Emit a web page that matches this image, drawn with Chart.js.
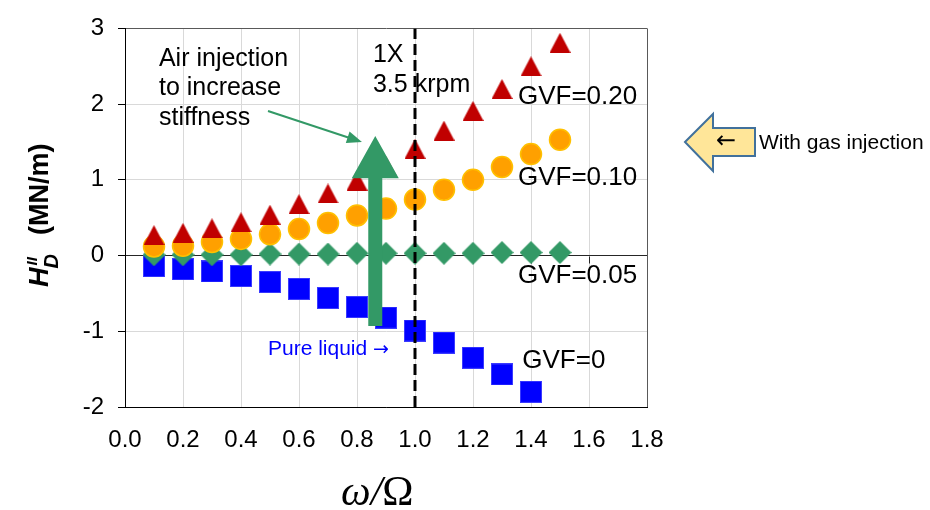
<!DOCTYPE html>
<html>
<head>
<meta charset="utf-8">
<script src="https://cdn.jsdelivr.net/npm/chart.js@4.4.1/dist/chart.umd.min.js"></script>
<style>
  html, body { margin: 0; padding: 0; background: #fff; }
  canvas { display: block; }
</style>
</head>
<body>
<canvas id="hdd" width="930" height="510"></canvas>
<script>
// frequency ratio w/W for each measured point
const freqRatio = [0.1, 0.2, 0.3, 0.4, 0.5, 0.6, 0.7, 0.8, 0.9, 1.0, 1.1, 1.2, 1.3, 1.4, 1.5];

// direct dynamic stiffness H_D (MN/m) per gas volume fraction
const gvf000 = [-0.14, -0.18, -0.21, -0.27, -0.35, -0.44, -0.56, -0.68, -0.82, -0.99, -1.15, -1.35, -1.57, -1.80];
const gvf005 = [0.01, 0.01, 0.01, 0.01, 0.02, 0.02, 0.02, 0.03, 0.03, 0.03, 0.03, 0.03, 0.04, 0.04, 0.04];
const gvf010 = [0.12, 0.13, 0.18, 0.22, 0.28, 0.35, 0.43, 0.53, 0.62, 0.74, 0.87, 1.00, 1.17, 1.34, 1.53];
const gvf020 = [0.27, 0.30, 0.36, 0.44, 0.54, 0.68, 0.82, 0.99, 1.18, 1.41, 1.65, 1.91, 2.20, 2.50, 2.81];

const seriesLabels = ['GVF=0', 'GVF=0.05', 'GVF=0.10', 'GVF=0.20'];

// axis ranges and tick steps
const xRange = [0, 1.8];
const xStep = 0.2;
const yRange = [-2, 3];
const yStep = 1;

// synchronous speed marker (1X = 3.5 krpm)
const syncRatio = 1.0;

const SANS = '"Liberation Sans", Arial, sans-serif';
const SERIF = '"Liberation Serif", "Times New Roman", serif';
const ARROWS = '"DejaVu Sans", ' + SANS;
const GREEN = '#339966';

function pairs(xs, ys) {
  return ys.map((y, i) => ({ x: xs[i], y: y }));
}

// Excel-like markers, drawn once and reused as point images
function marker(w, h, draw) {
  const c = document.createElement('canvas');
  c.width = w;
  c.height = h;
  draw(c.getContext('2d'), w, h);
  return c;
}

const triangleMark = marker(21, 20, (g, w, h) => {
  g.fillStyle = '#c00000';
  g.beginPath();
  g.moveTo(w / 2, 0);
  g.lineTo(w, h);
  g.lineTo(0, h);
  g.closePath();
  g.fill();
});

const diamondMark = marker(23, 23, (g, w, h) => {
  g.fillStyle = GREEN;
  g.beginPath();
  g.moveTo(w / 2, 0);
  g.lineTo(w, h / 2);
  g.lineTo(w / 2, h);
  g.lineTo(0, h / 2);
  g.closePath();
  g.fill();
});

const squareMark = marker(22, 22, (g, w, h) => {
  g.fillStyle = '#3a3aff';
  g.fillRect(0, 0, w, h);
  g.fillStyle = '#0000ff';
  g.fillRect(1, 1, w - 2, h - 2);
});

function near(a, b) {
  return Math.abs(a - b) < 1e-6;
}

// text placed in data coordinates
const notes = [
  { text: 'Air injection', x: 0.117, y: 2.60, size: 25 },
  { text: 'to increase', x: 0.117, y: 2.21, size: 25 },
  { text: 'stiffness', x: 0.117, y: 1.82, size: 25 },
  { text: '1X', x: 0.855, y: 2.65, size: 25 },
  { text: '3.5 krpm', x: 0.855, y: 2.25, size: 25 },
  { text: seriesLabels[3], x: 1.355, y: 2.09, size: 26 },
  { text: seriesLabels[2], x: 1.355, y: 1.03, size: 26 },
  { text: seriesLabels[1], x: 1.355, y: -0.27, size: 26 },
  { text: seriesLabels[0], x: 1.37, y: -1.39, size: 26 },
  { text: 'Pure liquid ', x: 0.493, y: -1.24, size: 21, color: '#0000ff', tail: '\u2192' }
];

// big arrow: air injection lifts the stiffness
const liftArrow = { x: 0.863, from: -0.93, headBase: 1.02, tip: 1.58 };
// pointer from the note to the big arrow
const pointer = { x0: 0.493, y0: 1.91, x1: 0.817, y1: 1.50 };

const notesPlugin = {
  id: 'notes',
  beforeDatasetsDraw(chart) {
    // small tick marks where the x axis crosses at zero
    const { ctx, scales: { x, y } } = chart;
    const y0 = Math.round(y.getPixelForValue(0)) + 0.5;
    ctx.save();
    ctx.strokeStyle = '#262626';
    ctx.lineWidth = 1;
    ctx.beginPath();
    for (let v = xRange[0] + xStep; v < xRange[1] - 1e-6; v += xStep) {
      const px = Math.round(x.getPixelForValue(v)) + 0.5;
      ctx.moveTo(px, y0);
      ctx.lineTo(px, y0 + 7);
    }
    ctx.stroke();
    ctx.restore();
  },
  afterDatasetsDraw(chart) {
    const { ctx, scales: { x, y } } = chart;
    const cx = x.getPixelForValue(liftArrow.x);
    const yb = y.getPixelForValue(liftArrow.from);
    const yh = y.getPixelForValue(liftArrow.headBase);
    const yt = y.getPixelForValue(liftArrow.tip);
    ctx.save();
    ctx.fillStyle = GREEN;
    ctx.beginPath();
    ctx.moveTo(cx - 7, yb);
    ctx.lineTo(cx - 7, yh);
    ctx.lineTo(cx - 23.5, yh);
    ctx.lineTo(cx, yt);
    ctx.lineTo(cx + 23.5, yh);
    ctx.lineTo(cx + 7, yh);
    ctx.lineTo(cx + 7, yb);
    ctx.closePath();
    ctx.fill();
    ctx.restore();
  },
  afterDraw(chart) {
    const { ctx, scales: { x, y } } = chart;
    ctx.save();

    // annotations inside the plot
    ctx.textAlign = 'left';
    ctx.textBaseline = 'middle';
    notes.forEach(n => {
      const px = x.getPixelForValue(n.x), py = y.getPixelForValue(n.y);
      ctx.font = n.size + 'px ' + SANS;
      ctx.fillStyle = n.color || '#000';
      ctx.fillText(n.text, px, py);
      if (n.tail) {
        const w = ctx.measureText(n.text).width;
        ctx.font = (n.size - 2) + 'px ' + ARROWS;
        ctx.fillText(n.tail, px + w, py + 1);
      }
    });

    // thin pointer arrow
    const ax = x.getPixelForValue(pointer.x0), ay = y.getPixelForValue(pointer.y0);
    const bx = x.getPixelForValue(pointer.x1), by = y.getPixelForValue(pointer.y1);
    const ang = Math.atan2(by - ay, bx - ax);
    ctx.strokeStyle = GREEN;
    ctx.fillStyle = GREEN;
    ctx.lineWidth = 2;
    ctx.beginPath();
    ctx.moveTo(ax, ay);
    ctx.lineTo(bx - 12 * Math.cos(ang), by - 12 * Math.sin(ang));
    ctx.stroke();
    ctx.beginPath();
    ctx.moveTo(bx, by);
    ctx.lineTo(bx - 15 * Math.cos(ang) + 6 * Math.sin(ang), by - 15 * Math.sin(ang) - 6 * Math.cos(ang));
    ctx.lineTo(bx - 15 * Math.cos(ang) - 6 * Math.sin(ang), by - 15 * Math.sin(ang) + 6 * Math.cos(ang));
    ctx.closePath();
    ctx.fill();

    // y axis title: H_D^II (MN/m)
    ctx.save();
    ctx.translate(48, 287);
    ctx.rotate(-Math.PI / 2);
    ctx.textAlign = 'left';
    ctx.textBaseline = 'alphabetic';
    ctx.fillStyle = '#000';
    ctx.font = 'italic bold 27px ' + SANS;
    ctx.fillText('H', 0, 0);
    const hw = ctx.measureText('H').width;
    ctx.font = 'italic bold 20px ' + SANS;
    ctx.fillText('D', hw - 1, 10);
    ctx.font = 'italic bold 15px ' + SANS;
    ctx.fillText('II', hw + 2, -11);
    ctx.font = 'bold 27px ' + SANS;
    ctx.fillText('(MN/m)', 52, 0);
    ctx.restore();

    // x axis title: w/W
    ctx.textBaseline = 'alphabetic';
    ctx.fillStyle = '#000';
    let tx = 341;
    ctx.font = 'italic 42px ' + SERIF;
    ctx.fillText('\u03c9/', tx, 505);
    tx += ctx.measureText('\u03c9/').width;
    ctx.font = '42px ' + SERIF;
    ctx.fillText('\u03a9', tx, 505);

    // callout arrow on the right
    ctx.beginPath();
    ctx.moveTo(685, 142);
    ctx.lineTo(713, 114);
    ctx.lineTo(713, 128);
    ctx.lineTo(755, 128);
    ctx.lineTo(755, 156);
    ctx.lineTo(713, 156);
    ctx.lineTo(713, 171);
    ctx.closePath();
    ctx.fillStyle = '#ffe699';
    ctx.fill();
    ctx.strokeStyle = '#41719c';
    ctx.lineWidth = 2;
    ctx.stroke();
    ctx.fillStyle = '#000';
    ctx.textBaseline = 'middle';
    ctx.font = '24px ' + ARROWS;
    ctx.fillText('\u2190', 716, 142);
    ctx.font = '21px ' + SANS;
    ctx.fillText('With gas injection', 759, 143);

    ctx.restore();
  }
};

new Chart(document.getElementById('hdd'), {
  type: 'scatter',
  data: {
    datasets: [
      {
        label: '1X',
        type: 'line',
        data: [{ x: syncRatio, y: yRange[0] }, { x: syncRatio, y: yRange[1] }],
        borderColor: '#000',
        borderWidth: 3,
        borderDash: [11, 5],
        pointRadius: 0,
        order: 0
      },
      {
        label: seriesLabels[3],
        data: pairs(freqRatio, gvf020),
        pointStyle: triangleMark,
        order: 1
      },
      {
        label: seriesLabels[2],
        data: pairs(freqRatio, gvf010),
        pointStyle: 'circle',
        pointRadius: 10.5,
        backgroundColor: '#ffa000',
        borderColor: '#ffc000',
        borderWidth: 1.5,
        order: 2
      },
      {
        label: seriesLabels[1],
        data: pairs(freqRatio, gvf005),
        pointStyle: diamondMark,
        order: 3
      },
      {
        label: seriesLabels[0],
        data: pairs(freqRatio, gvf000),
        pointStyle: squareMark,
        order: 4
      }
    ]
  },
  options: {
    responsive: false,
    animation: false,
    devicePixelRatio: 1,
    layout: {
      autoPadding: false,
      padding: { left: 0, right: 283, top: 22, bottom: 0 }
    },
    plugins: {
      legend: { display: false },
      tooltip: { enabled: false }
    },
    scales: {
      x: {
        type: 'linear',
        min: xRange[0],
        max: xRange[1],
        ticks: {
          stepSize: xStep,
          padding: 19,
          color: '#000',
          font: { family: SANS, size: 24 },
          callback: v => v.toFixed(1)
        },
        grid: {
          drawTicks: false,
          color: c => near(c.tick.value, xRange[1]) ? '#595959' : (near(c.tick.value, 0) ? '#000' : '#d9d9d9')
        },
        border: { color: '#000', width: 1 },
        afterFit: s => { s.height = 103; }
      },
      y: {
        min: yRange[0],
        max: yRange[1],
        ticks: {
          stepSize: yStep,
          padding: 14,
          color: '#000',
          font: { family: SANS, size: 24 }
        },
        grid: {
          drawTicks: true,
          tickLength: 7,
          tickColor: '#000',
          color: c => near(c.tick.value, 0) ? '#262626'
            : (near(c.tick.value, yRange[0]) || near(c.tick.value, yRange[1]) ? '#595959' : '#d9d9d9')
        },
        border: { color: '#000', width: 1 },
        afterFit: s => { s.width = 125; }
      }
    }
  },
  plugins: [notesPlugin]
});
</script>
</body>
</html>
